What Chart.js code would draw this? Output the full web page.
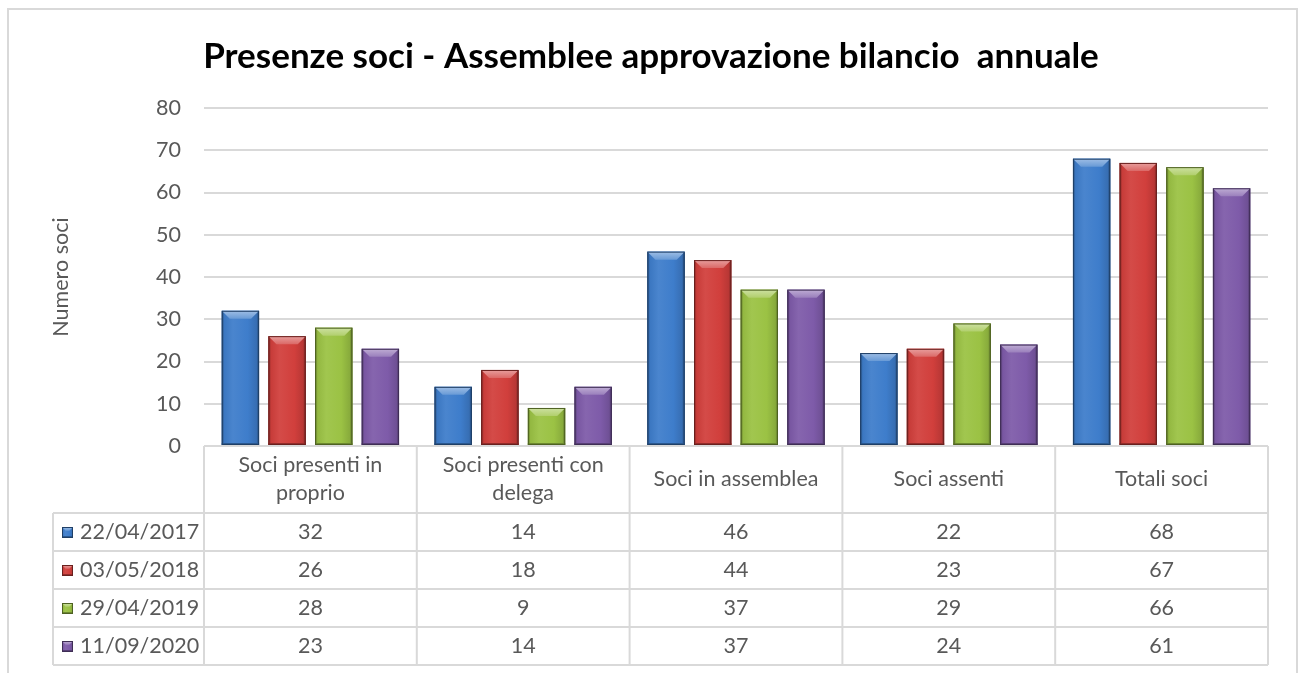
<!DOCTYPE html>
<html>
<head>
<meta charset="utf-8">
<script src="https://cdn.jsdelivr.net/npm/chart.js@4.4.0/dist/chart.umd.min.js"></script>
<style>
  html, body { margin: 0; padding: 0; background: #fff; }
</style>
</head>
<body>
<canvas id="grafico" width="1301" height="673"></canvas>
<script>
/* ===================== DATI ===================== */
const categorie = [['Soci presenti in', 'proprio'], ['Soci presenti con', 'delega'], ['Soci in assemblea'], ['Soci assenti'], ['Totali soci']];
const dateAssemblee = ['22/04/2017', '03/05/2018', '29/04/2019', '11/09/2020'];
const soci2017 = [32, 14, 46, 22, 68];
const soci2018 = [26, 18, 44, 23, 67];
const soci2019 = [28, 9, 37, 29, 66];
const soci2020 = [23, 14, 37, 24, 61];
const tickY = [0, 10, 20, 30, 40, 50, 60, 70, 80];

const serie = [soci2017, soci2018, soci2019, soci2020];
const colori = ['#3e7dcb', '#d13f3c', '#9bc244', '#7e5ba9'];
const grigio = '#d9d9d9';
const testo = '#595959';
const FONT = 'Lato, "Open Sans", sans-serif';

/* ===================== UTILITY COLORI ===================== */
function mix(hex, amt) {
  const n = parseInt(hex.slice(1), 16);
  let r = n >> 16, g = (n >> 8) & 255, b = n & 255;
  const t = amt < 0 ? 0 : 255, p = Math.abs(amt);
  r = Math.round(r + (t - r) * p);
  g = Math.round(g + (t - g) * p);
  b = Math.round(b + (t - b) * p);
  return `rgb(${r},${g},${b})`;
}

function bevel(ctx, l, t, w, h, col) {
  if (h <= 0) return;
  ctx.save();
  const gr = ctx.createLinearGradient(l, 0, l + w, 0);
  gr.addColorStop(0, mix(col, -0.4));
  gr.addColorStop(0.07, mix(col, -0.05));
  gr.addColorStop(0.3, mix(col, 0.06));
  gr.addColorStop(0.7, col);
  gr.addColorStop(0.93, mix(col, -0.12));
  gr.addColorStop(1, mix(col, -0.45));
  ctx.fillStyle = gr;
  ctx.fillRect(l, t, w, h);
  const b = Math.min(8, h / 3);
  // bevel superiore
  const gt = ctx.createLinearGradient(0, t, 0, t + b);
  gt.addColorStop(0, mix(col, 0.5));
  gt.addColorStop(1, mix(col, 0.22));
  ctx.fillStyle = gt;
  ctx.beginPath();
  ctx.moveTo(l, t); ctx.lineTo(l + w, t);
  ctx.lineTo(l + w - b, t + b); ctx.lineTo(l + b, t + b);
  ctx.closePath(); ctx.fill();
  // bordo inferiore
  ctx.fillStyle = mix(col, -0.3);
  ctx.fillRect(l, t + h - 2, w, 2);
  ctx.strokeStyle = mix(col, -0.5);
  ctx.lineWidth = 1;
  ctx.strokeRect(l + 0.5, t + 0.5, w - 1, h - 1);
  ctx.restore();
}

/* ===================== PLUGIN ===================== */
const cornice = {
  id: 'cornice',
  beforeDraw(chart) {
    const ctx = chart.ctx;
    ctx.save();
    ctx.strokeStyle = grigio;
    ctx.lineWidth = 2;
    ctx.strokeRect(8, 9, 1289, 700);
    ctx.fillStyle = '#000';
    ctx.font = `bold 35px ${FONT}`;
    ctx.textAlign = 'center';
    ctx.textBaseline = 'middle';
    ctx.fillText('Presenze soci - Assemblee approvazione bilancio  annuale', 651, 57);
    ctx.restore();
  }
};

const barre3d = {
  id: 'barre3d',
  afterDatasetsDraw(chart) {
    const ctx = chart.ctx;
    chart.data.datasets.forEach((ds, di) => {
      chart.getDatasetMeta(di).data.forEach(bar => {
        const p = bar.getProps(['x', 'y', 'base', 'width'], true);
        bevel(ctx, p.x - p.width / 2, p.y, p.width, p.base - p.y, colori[di]);
      });
    });
  }
};

const tabellaDati = {
  id: 'tabellaDati',
  afterDraw(chart) {
    const ctx = chart.ctx;
    const area = chart.chartArea;
    const xs = chart.scales.x;
    const colW = (area.right - area.left) / categorie.length;
    const top = area.bottom;
    const hHead = 67, hRow = 38, legL = 53;
    const fondo = top + hHead + hRow * dateAssemblee.length;
    ctx.save();
    ctx.strokeStyle = grigio;
    ctx.lineWidth = 2;
    ctx.beginPath();
    ctx.moveTo(area.left, top); ctx.lineTo(area.right, top);
    for (let i = 0; i <= dateAssemblee.length; i++) {
      const y = top + hHead + i * hRow;
      ctx.moveTo(legL, y); ctx.lineTo(area.right, y);
    }
    for (let k = 0; k <= categorie.length; k++) {
      const x = area.left + k * colW;
      ctx.moveTo(x, top); ctx.lineTo(x, fondo);
    }
    ctx.moveTo(legL, top + hHead); ctx.lineTo(legL, fondo);
    ctx.stroke();

    ctx.fillStyle = testo;
    ctx.font = `21.5px ${FONT}`;
    ctx.textAlign = 'center';
    ctx.textBaseline = 'middle';
    categorie.forEach((righe, i) => {
      const cx = xs.getPixelForValue(i);
      const y0 = top + hHead / 2 - (righe.length - 1) * 14;
      righe.forEach((r, j) => ctx.fillText(r, cx, y0 + j * 28));
    });
    serie.forEach((vals, di) => {
      const cy = top + hHead + di * hRow + hRow / 2;
      vals.forEach((v, i) => {
        ctx.fillStyle = testo;
        ctx.textAlign = 'center';
        ctx.fillText(String(v), xs.getPixelForValue(i), cy);
      });
      bevel(ctx, 62, cy - 5, 11, 11, colori[di]);
      ctx.fillStyle = testo;
      ctx.textAlign = 'left';
      ctx.fillText(dateAssemblee[di], 80, cy);
    });
    ctx.restore();
  }
};

/* ===================== GRAFICO ===================== */
new Chart(document.getElementById('grafico'), {
  type: 'bar',
  data: {
    labels: categorie,
    datasets: serie.map((vals, i) => ({
      label: dateAssemblee[i],
      data: vals,
      backgroundColor: colori[i],
      borderWidth: 0,
      barPercentage: 0.8,
      categoryPercentage: 0.877
    }))
  },
  options: {
    responsive: false,
    animation: false,
    layout: { padding: { left: 0, right: 33, top: 108, bottom: 227 } },
    plugins: {
      legend: { display: false },
      tooltip: { enabled: false }
    },
    scales: {
      x: { display: false },
      y: {
        min: 0,
        max: 80,
        afterFit: s => { s.width = 204; },
        afterBuildTicks: s => { s.ticks = tickY.map(v => ({ value: v })); },
        grid: { color: grigio, lineWidth: 2, drawTicks: false },
        border: { display: false },
        ticks: { color: testo, font: { family: FONT, size: 21.5 }, padding: 23 },
        title: {
          display: true,
          text: 'Numero soci',
          color: testo,
          font: { family: FONT, size: 21.5 },
          padding: { top: 48 }
        }
      }
    }
  },
  plugins: [cornice, barre3d, tabellaDati]
});
</script>
</body>
</html>
